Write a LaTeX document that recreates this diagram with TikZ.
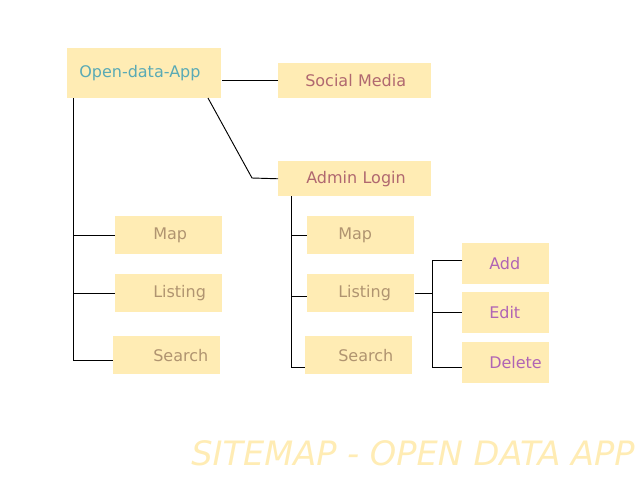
\documentclass[tikz,border=0pt]{standalone}
\usepackage{fontspec}
\setmainfont{DejaVu Sans}
\usepackage{xcolor}
\usepackage{tikz}
\usetikzlibrary{positioning}

\definecolor{boxfill}{RGB}{255,236,180}
\definecolor{apptext}{RGB}{90,170,181}
\definecolor{roottext}{RGB}{176,104,112}
\definecolor{leaftext}{RGB}{176,148,112}
\definecolor{crudtext}{RGB}{176,100,180}

\newdimen\pxu
\pxu=0.75pt

\begin{document}
\begin{tikzpicture}[
  x=0.75pt, y=-0.75pt,
  box/.style 2 args={fill=boxfill, anchor=north west, inner sep=0pt, align=left,
    text width=#1*\pxu, execute at begin node={\hspace*{#2\pxu}},
    font=\fontsize{12}{14}\selectfont},
  leaf/.style={box={107}{#1}, minimum height=38*\pxu, text=leaftext},
  crud/.style={box={87}{27}, minimum height=41*\pxu, text=crudtext},
  link/.style={draw, line width=0.7pt}
]
\useasboundingbox (0,0) rectangle (640,480);

% top level
\node[box={154}{12}, minimum height=50*\pxu, text=apptext] (app) at (67,48) {Open-data-App};
\node[box={153}{27}, minimum height=35*\pxu, text=roottext] (social) at (278,63) {Social Media};
\node[box={153}{28}, minimum height=35*\pxu, text=roottext] (admin) at (278,161) {Admin Login};

% public pages
\node[leaf=38] (lmap) at (115,216) {Map};
\node[leaf=38] (llist) at (115,274) {Listing};
\node[leaf=40] (lsearch) at (113,336) {Search};

% admin pages
\node[leaf=31] (rmap) at (307,216) {Map};
\node[leaf=31] (rlist) at (307,274) {Listing};
\node[leaf=33] (rsearch) at (305,336) {Search};

% listing actions
\node[crud] (add) at (462,243) {Add};
\node[crud] (edit) at (462,292) {Edit};
\node[crud] (delete) at (462,342) {Delete};

% connectors
\coordinate (appfoot) at (208,98);
\coordinate (adminbend) at (252,178);
\coordinate (ltop) at (73,98);
\coordinate (rtop) at (291,196);
\coordinate (rsplit) at ([xshift=13.5pt]rlist.east);
\coordinate (rlistin) at ([yshift=-2.2pt]rlist.west);
\coordinate (addin) at ([yshift=2.5pt]add.west);
\coordinate (delin) at ([yshift=-3.5pt]delete.west);

\path[link] (social.west) -- (social.west -| app.east);
\path[link] (appfoot) -- (adminbend) -- (admin.west);

\path[link] (ltop) |- ([yshift=-4pt]lsearch.west);
\path[link] (ltop |- lmap.west) -- (lmap.west);
\path[link] (ltop |- llist.west) -- (llist.west);

\path[link] (rtop) |- ([yshift=-9pt]rsearch.west);
\path[link] (rtop |- rmap.west) -- (rmap.west);
\path[link] (rtop |- rlistin) -- (rlistin);

\path[link] (rlist.east) -- (rsplit);
\path[link] (addin) -| (rsplit |- delin) -- (delin);
\path[link] (rsplit |- edit.west) -- (edit.west);

% title
\node[anchor=base west, inner sep=0pt, text=boxfill,
  font=\fontsize{25.2}{28}\selectfont\itshape] (title) at (191,465) {SITEMAP - OPEN DATA APP};

\end{tikzpicture}
\end{document}
